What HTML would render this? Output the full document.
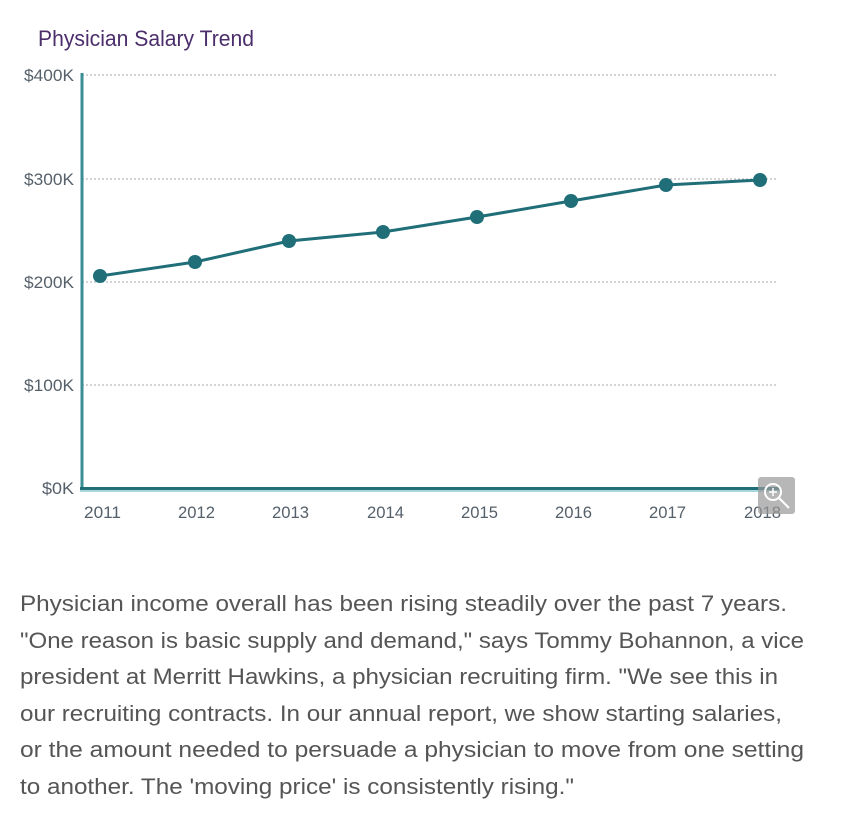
<!DOCTYPE html>
<html><head><meta charset="utf-8"><style>
body{margin:0;background:#fff;width:845px;height:825px;overflow:hidden;font-family:"Liberation Sans",sans-serif}
</style></head><body>
<svg width="845" height="825" style="position:absolute;left:0;top:0" font-family="Liberation Sans Narrow, Liberation Sans, sans-serif">
<text x="38" y="46" font-size="22" fill="#4b2e6b" textLength="216" lengthAdjust="spacingAndGlyphs">Physician Salary Trend</text>
<g stroke="#aaa" stroke-width="1" stroke-dasharray="2,2">
<line x1="82" y1="75" x2="778" y2="75"/><line x1="82" y1="179" x2="778" y2="179"/><line x1="82" y1="282" x2="778" y2="282"/><line x1="82" y1="385" x2="778" y2="385"/>
</g>
<line x1="82" y1="73" x2="82" y2="490" stroke="#3a8e96" stroke-width="3"/>
<line x1="80" y1="488.5" x2="780" y2="488.5" stroke="#1f6e78" stroke-width="3"/>
<line x1="80" y1="491" x2="780" y2="491" stroke="#8ccad0" stroke-width="1.5"/>
<g font-size="17" fill="#55606a" text-anchor="end">
<text x="74" y="81" textLength="50" lengthAdjust="spacingAndGlyphs">$400K</text>
<text x="74" y="185" textLength="50" lengthAdjust="spacingAndGlyphs">$300K</text>
<text x="74" y="288" textLength="50" lengthAdjust="spacingAndGlyphs">$200K</text>
<text x="74" y="391" textLength="50" lengthAdjust="spacingAndGlyphs">$100K</text>
<text x="74" y="494" textLength="32" lengthAdjust="spacingAndGlyphs">$0K</text>
</g>
<g font-size="17" fill="#55606a">
<text x="84" y="518" textLength="37" lengthAdjust="spacingAndGlyphs">2011</text><text x="178" y="518" textLength="37" lengthAdjust="spacingAndGlyphs">2012</text><text x="272" y="518" textLength="37" lengthAdjust="spacingAndGlyphs">2013</text><text x="367" y="518" textLength="37" lengthAdjust="spacingAndGlyphs">2014</text><text x="461" y="518" textLength="37" lengthAdjust="spacingAndGlyphs">2015</text><text x="555" y="518" textLength="37" lengthAdjust="spacingAndGlyphs">2016</text><text x="649" y="518" textLength="37" lengthAdjust="spacingAndGlyphs">2017</text><text x="744" y="518" textLength="37" lengthAdjust="spacingAndGlyphs">2018</text>
</g>
<polyline points="100,276 195,262 289,241 383,232 477,217 571,201 666,185 760,180" fill="none" stroke="#1f6e78" stroke-width="3"/>
<g fill="#1f6e78"><circle cx="100" cy="276" r="7"/><circle cx="195" cy="262" r="7"/><circle cx="289" cy="241" r="7"/><circle cx="383" cy="232" r="7"/><circle cx="477" cy="217" r="7"/><circle cx="571" cy="201" r="7"/><circle cx="666" cy="185" r="7"/><circle cx="760" cy="180" r="7"/></g>
<rect x="758" y="477" width="37" height="37" rx="3" fill="#999" opacity="0.7"/>
<circle cx="773" cy="492" r="8" fill="none" stroke="#fff" stroke-width="2"/>
<line x1="779" y1="498" x2="789" y2="508" stroke="#fff" stroke-width="2"/>
<line x1="769" y1="492" x2="777" y2="492" stroke="#fff" stroke-width="1.5"/><line x1="773" y1="488" x2="773" y2="496" stroke="#fff" stroke-width="1.5"/>
<g font-family="Liberation Sans, sans-serif" font-size="22" fill="#555" lengthAdjust="spacingAndGlyphs">
<text x="20" y="611" textLength="767" lengthAdjust="spacingAndGlyphs">Physician income overall has been rising steadily over the past 7 years.</text>
<text x="20" y="648" textLength="784" lengthAdjust="spacingAndGlyphs">"One reason is basic supply and demand," says Tommy Bohannon, a vice</text>
<text x="20" y="684" textLength="758" lengthAdjust="spacingAndGlyphs">president at Merritt Hawkins, a physician recruiting firm. "We see this in</text>
<text x="20" y="721" textLength="762" lengthAdjust="spacingAndGlyphs">our recruiting contracts. In our annual report, we show starting salaries,</text>
<text x="20" y="757" textLength="784" lengthAdjust="spacingAndGlyphs">or the amount needed to persuade a physician to move from one setting</text>
<text x="20" y="794" textLength="554" lengthAdjust="spacingAndGlyphs">to another. The 'moving price' is consistently rising."</text>
</g>
</svg>
</body></html>
